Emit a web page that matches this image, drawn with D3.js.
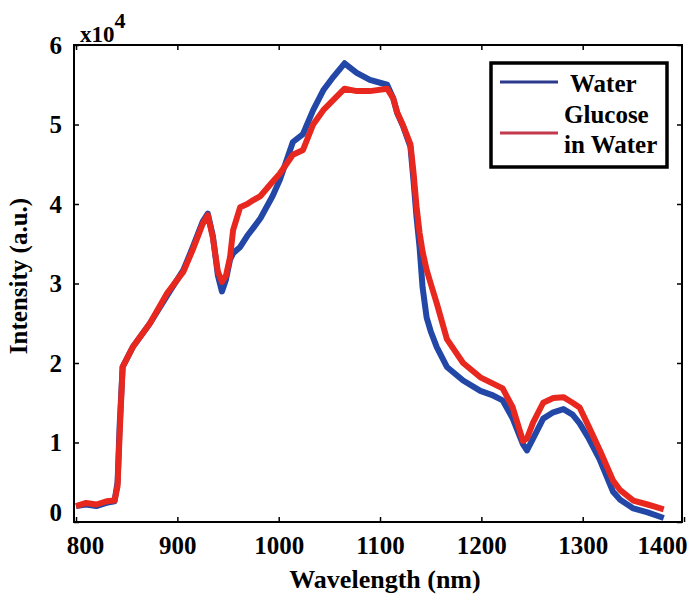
<!DOCTYPE html>
<html><head><meta charset="utf-8">
<script src="https://cdn.jsdelivr.net/npm/d3@7/dist/d3.min.js"></script>
<style>body{margin:0;background:#fff}svg{display:block}svg text{font-family:"Liberation Serif","Tinos","Times New Roman","DejaVu Serif",serif !important;font-weight:bold}</style>
</head><body>
<svg id="chart" width="689" height="595"></svg>
<script>
const wavelengths = [800,810,820,830,838,841,843,846,856,873,890,906,915,925,930,935,940,944,948,952,955,962,969,975,982,994,1001,1014,1024,1034,1044,1054,1065,1077,1090,1107,1113,1117,1123,1130,1133,1136,1139,1142,1146,1150,1156,1166,1182,1199,1210,1221,1231,1241,1245,1251,1261,1271,1281,1290,1297,1306,1317,1330,1337,1350,1364,1380];
const water = [0.2,0.22,0.2,0.24,0.26,0.5,1.2,1.95,2.2,2.5,2.85,3.17,3.45,3.78,3.88,3.6,3.1,2.9,3.05,3.3,3.38,3.46,3.6,3.7,3.82,4.1,4.3,4.78,4.88,5.18,5.43,5.6,5.77,5.65,5.56,5.5,5.33,5.14,4.97,4.72,4.3,3.84,3.46,2.95,2.57,2.4,2.2,1.95,1.78,1.65,1.6,1.53,1.3,0.98,0.9,1.05,1.3,1.38,1.42,1.35,1.24,1.05,0.78,0.38,0.28,0.17,0.12,0.05];
const glucose = [0.2,0.24,0.22,0.26,0.27,0.45,1.1,1.95,2.2,2.5,2.88,3.15,3.42,3.75,3.86,3.58,3.15,3.02,3.1,3.33,3.67,3.96,4.0,4.05,4.1,4.28,4.38,4.62,4.68,5.0,5.18,5.31,5.45,5.42,5.42,5.45,5.33,5.15,4.98,4.75,4.4,3.97,3.64,3.4,3.17,3.0,2.75,2.3,2.0,1.82,1.75,1.68,1.44,1.02,1.05,1.25,1.5,1.56,1.57,1.5,1.44,1.2,0.9,0.52,0.4,0.27,0.22,0.16];
const xTicks = [800,900,1000,1100,1200,1300,1400];
const yTicks = [0,1,2,3,4,5,6];
const seriesNames = ["Water","Glucose in Water"];

const svg = d3.select("#chart");
const L = 74, R = 682, T = 45, B = 522;
const x = d3.scaleLinear().domain([798,1398]).range([L,R]);
const y = d3.scaleLinear().domain([0,6]).range([B,T]);

const line = d3.line().x((d,i)=>x(wavelengths[i])).y(d=>y(d));
svg.append("path").datum(water).attr("d",line).attr("fill","none")
  .attr("stroke","#2347a6").attr("stroke-width",6).attr("stroke-linejoin","round");
svg.append("path").datum(glucose).attr("d",line).attr("fill","none")
  .attr("stroke","#e8281e").attr("stroke-width",6).attr("stroke-linejoin","round");

// frame
svg.append("rect").attr("x",L).attr("y",T).attr("width",R-L).attr("height",B-T)
  .attr("fill","none").attr("stroke","#000").attr("stroke-width",2);

// axes (ticks inward, all four sides)
const fs = "25px";
const xb = svg.append("g").attr("transform",`translate(0,${B})`)
  .call(d3.axisBottom(x).tickValues(xTicks).tickSize(-5).tickPadding(14).tickFormat(d3.format("d")));
const xt = svg.append("g").attr("transform",`translate(0,${T})`)
  .call(d3.axisTop(x).tickValues(xTicks.filter(v=>v<1398)).tickSize(-5).tickFormat(""));
const yl = svg.append("g").attr("transform",`translate(${L},0)`)
  .call(d3.axisLeft(y).tickValues(yTicks).tickSize(-5).tickPadding(12).tickFormat(d3.format("d")));
const yr = svg.append("g").attr("transform",`translate(${R},0)`)
  .call(d3.axisRight(y).tickValues(yTicks).tickSize(-5).tickFormat(""));
[xb,xt,yl,yr].forEach(g=>{g.attr("font-family",null);g.select(".domain").remove();g.selectAll("line").attr("stroke","#000").attr("stroke-width",1.5);});
xb.selectAll("text").attr("font-size",fs).attr("fill","#000")
  .attr("dx",(d)=> d===800 ? 9 : (d===1400 ? -22 : 0));
yl.selectAll("text").attr("font-size",fs).attr("fill","#000")
  .attr("dy",(d)=> d===0 ? "-0.05em" : "0.32em");

// exponent
const ex = svg.append("text").attr("x",80).attr("y",42).attr("font-size","23px");
ex.append("tspan").text("x10");
ex.append("tspan").attr("dy",-14).attr("font-size","22px").text("4");

// axis titles
svg.append("text").attr("x",385).attr("y",588).attr("text-anchor","middle")
  .attr("font-size","26px").text("Wavelength (nm)");
svg.append("text").attr("transform","translate(27,276) rotate(-90)").attr("text-anchor","middle")
  .attr("font-size","25px").text("Intensity (a.u.)");

// legend
const lg = svg.append("g");
lg.append("rect").attr("x",491).attr("y",63).attr("width",176).attr("height",104)
  .attr("fill","#fff").attr("stroke","#000").attr("stroke-width",3.5);
lg.append("line").attr("x1",500).attr("x2",558).attr("y1",82).attr("y2",82)
  .attr("stroke","#2b3a8e").attr("stroke-width",3);
lg.append("line").attr("x1",500).attr("x2",558).attr("y1",133).attr("y2",133)
  .attr("stroke","#c23a4b").attr("stroke-width",3);
lg.append("text").attr("x",570).attr("y",92).attr("font-size","25px").text(seriesNames[0]);
const g2 = lg.append("text").attr("x",564).attr("y",123).attr("font-size","25px");
g2.append("tspan").attr("x",564).text("Glucose");
g2.append("tspan").attr("x",564).attr("dy",30).text("in Water");
</script>
</body></html>
